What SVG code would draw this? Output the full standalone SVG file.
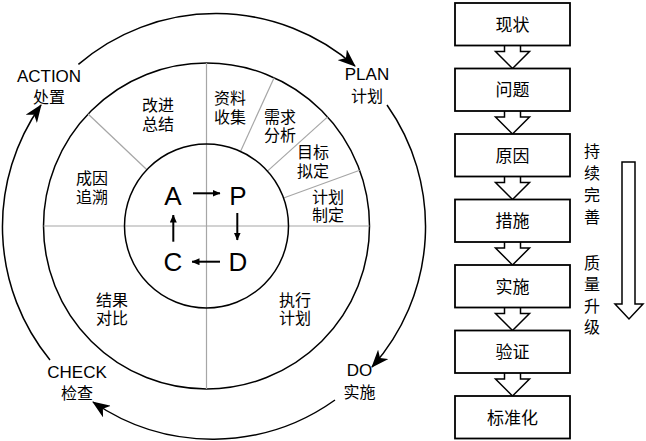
<svg xmlns="http://www.w3.org/2000/svg" width="646" height="441" viewBox="0 0 646 441">
<style>
.t{font-family:"Liberation Sans","Noto Sans CJK SC",sans-serif;fill:#000;text-anchor:middle}
.c16{font-size:16px}
.c17{font-size:17px}
.big{font-size:26px}
.ring{fill:none;stroke:#000;stroke-width:1.5}
.rad{stroke:#a6a6a6;stroke-width:1.2;fill:none}
.arc{fill:none;stroke:#000;stroke-width:1.5;marker-end:url(#ah)}
.sm{fill:none;stroke:#000;stroke-width:2;marker-end:url(#as)}
.box{fill:#fff;stroke:#000;stroke-width:1.8}
.blk{fill:#fff;stroke:#000;stroke-width:1.5}
</style>
<defs>
<marker id="ah" markerUnits="userSpaceOnUse" viewBox="0 0 18 14" refX="17" refY="7" markerWidth="18" markerHeight="14" orient="auto">
<path d="M0,0 L18,7 L0,14 L5,7 Z" fill="#000"/>
</marker>
<marker id="as" markerUnits="userSpaceOnUse" viewBox="0 0 8 7" refX="7.5" refY="3.5" markerWidth="8" markerHeight="7" orient="auto">
<path d="M0,0 L8,3.5 L0,7 Z" fill="#000"/>
</marker>
</defs>
<rect width="646" height="441" fill="#fff"/>

<g id="rings">
<circle class="ring" cx="206.5" cy="226" r="163"/>
<line class="rad" x1="206.5" y1="63" x2="206.5" y2="389"/>
<line class="rad" x1="43.5" y1="226" x2="369.5" y2="226"/>
<line class="rad" x1="240.5" y1="151.4" x2="274.1" y2="77.7"/>
<line class="rad" x1="267.4" y1="171.1" x2="327.6" y2="116.9"/>
<line class="rad" x1="283.6" y1="198" x2="359.7" y2="170.3"/>
<line class="rad" x1="146.9" y1="169.7" x2="88.1" y2="114"/>
<circle class="ring" cx="206.5" cy="226" r="82"/>
</g>

<g id="connectors">
<path class="arc" d="M78.4,64.4 A211,211 0 0 1 355,66"/>
<path class="arc" d="M387,105 A211,211 0 0 1 372,367"/>
<path class="arc" d="M335,400 A211,211 0 0 1 93,402"/>
<path class="arc" d="M50,360 A211,211 0 0 1 41,105"/>
<line class="sm" x1="193" y1="193.3" x2="220" y2="193.3"/>
<line class="sm" x1="237.3" y1="213" x2="237.3" y2="240"/>
<line class="sm" x1="220" y1="261.7" x2="192" y2="261.7"/>
<line class="sm" x1="173.3" y1="241.7" x2="173.3" y2="215"/>
<path class="blk" d="M504.5,45.5 V51.5 H495.5 L512.5,68.5 L529.5,51.5 H520.5 V45.5"/>
<path class="blk" d="M504.5,111 V117 H495.5 L512.5,134 L529.5,117 H520.5 V111"/>
<path class="blk" d="M504.5,176.5 V182.5 H495.5 L512.5,199.5 L529.5,182.5 H520.5 V176.5"/>
<path class="blk" d="M504.5,242 V248 H495.5 L512.5,265 L529.5,248 H520.5 V242"/>
<path class="blk" d="M504.5,307.5 V313.5 H495.5 L512.5,330.5 L529.5,313.5 H520.5 V307.5"/>
<path class="blk" d="M504.5,373 V379 H495.5 L512.5,396 L529.5,379 H520.5 V373"/>
<path class="blk" d="M622,162 H635 V304 H643 L629,319 L615,304 H622 Z"/>
</g>

<g id="pdca">
<text class="t big" x="173" y="205">A</text>
<text class="t big" x="238" y="205">P</text>
<text class="t big" x="173" y="271">C</text>
<text class="t big" x="238" y="271">D</text>
</g>

<g id="s-gaijin"><text class="t c16" x="158" y="111">改进</text><text class="t c16" x="158" y="129.5">总结</text></g>
<g id="s-ziliao"><text class="t c16" x="230" y="104">资料</text><text class="t c16" x="230" y="123">收集</text></g>
<g id="s-xuqiu"><text class="t c16" x="280" y="123">需求</text><text class="t c16" x="280" y="141">分析</text></g>
<g id="s-mubiao"><text class="t c16" x="313" y="158">目标</text><text class="t c16" x="313" y="177">拟定</text></g>
<g id="s-jihua"><text class="t c16" x="328" y="203">计划</text><text class="t c16" x="328" y="221">制定</text></g>
<g id="s-chengyin"><text class="t c16" x="92" y="184">成因</text><text class="t c16" x="92" y="203">追溯</text></g>
<g id="s-jieguo"><text class="t c16" x="112" y="306">结果</text><text class="t c16" x="112" y="324">对比</text></g>
<g id="s-zhixing"><text class="t c16" x="295" y="306">执行</text><text class="t c16" x="295" y="324">计划</text></g>

<g id="n-action"><text class="t c17" x="49" y="82">ACTION</text><text class="t c16" x="49" y="103">处置</text></g>
<g id="n-plan"><text class="t c17" x="367" y="80">PLAN</text><text class="t c16" x="367" y="102">计划</text></g>
<g id="n-do"><text class="t c17" x="359.5" y="375.5">DO</text><text class="t c16" x="359.5" y="398">实施</text></g>
<g id="n-check"><text class="t c17" x="77" y="378">CHECK</text><text class="t c16" x="77" y="399">检查</text></g>

<g id="b1"><rect class="box" x="455" y="3" width="115" height="42.5"/><text class="t c17" x="512.5" y="30.5">现状</text></g>
<g id="b2"><rect class="box" x="455" y="68.5" width="115" height="42.5"/><text class="t c17" x="512.5" y="96">问题</text></g>
<g id="b3"><rect class="box" x="455" y="134" width="115" height="42.5"/><text class="t c17" x="512.5" y="161.5">原因</text></g>
<g id="b4"><rect class="box" x="455" y="199.5" width="115" height="42.5"/><text class="t c17" x="512.5" y="227">措施</text></g>
<g id="b5"><rect class="box" x="455" y="265" width="115" height="42.5"/><text class="t c17" x="512.5" y="292.5">实施</text></g>
<g id="b6"><rect class="box" x="455" y="330.5" width="115" height="42.5"/><text class="t c17" x="512.5" y="358">验证</text></g>
<g id="b7"><rect class="box" x="455" y="396" width="115" height="42.5"/><text class="t c17" x="512.5" y="423.5">标准化</text></g>

<g id="side-text">
<text class="t c16" x="592" y="157">持</text>
<text class="t c16" x="592" y="179">续</text>
<text class="t c16" x="592" y="201">完</text>
<text class="t c16" x="592" y="223">善</text>
<text class="t c16" x="592" y="268.5">质</text>
<text class="t c16" x="592" y="290">量</text>
<text class="t c16" x="592" y="311.5">升</text>
<text class="t c16" x="592" y="333">级</text>
</g>
</svg>
